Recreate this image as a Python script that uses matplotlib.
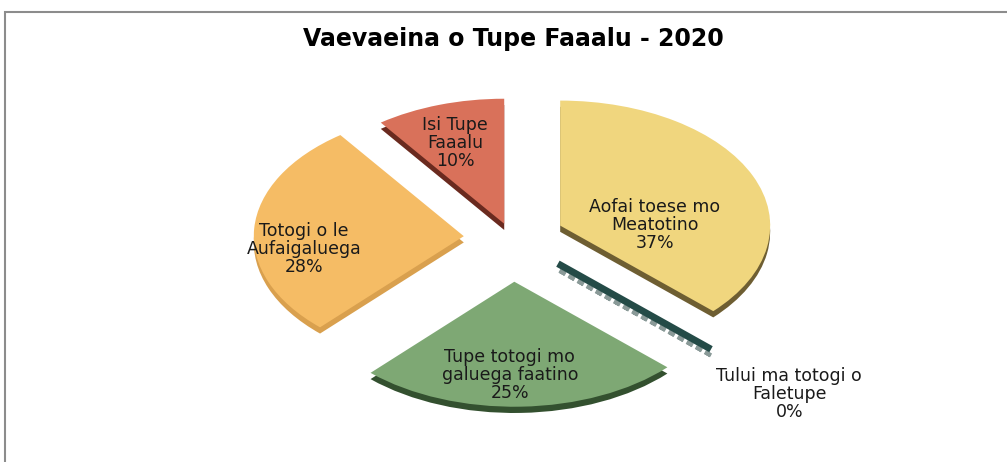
import numpy as np
import matplotlib
matplotlib.use("Agg")
import matplotlib.pyplot as plt
from matplotlib.patches import Rectangle

plt.rcParams['font.family'] = ['DejaVu Sans']

# data
categories = ["Aofai toese mo\nMeatotino", "Tului ma totogi o\nFaletupe",
              "Tupe totogi mo\ngaluega faatino", "Totogi o le\nAufaigaluega",
              "Isi Tupe\nFaaalu"]
shares = [37, 0, 25, 28, 10]

# styling
face_colors = ["#F0D67E", "#244B47", "#7EA874", "#F5BC65", "#D9715A"]
side_colors = ["#6E5E32", "#1A3532", "#33502F", "#D9A04E", "#6A2A1F"]
explode = [0.25, 0.30, 0.35, 0.23, 0.12]
label_xy = [(0.68, 0.10), (1.32, -1.25), (-0.01, -1.10), (-0.99, -0.09), (-0.27, 0.76)]

fig = plt.figure(figsize=(10.07, 4.62), dpi=100)
fig.patch.set_facecolor("white")

# chart frame (cut at right/bottom like the reference)
fig.patches.append(Rectangle((5 / 1007, -0.05), 1.2, (462 - 12) / 462 + 0.05,
                             transform=fig.transFigure, fill=False,
                             edgecolor="#8C8C8C", linewidth=1.5))

ax = fig.add_axes([92 / 1007, -1 / 462, 840 / 1007, 450 / 462])

# side / thickness layer
side, _ = ax.pie(shares, explode=explode, startangle=90, counterclock=False,
                 colors=side_colors, center=(0, -0.05),
                 wedgeprops=dict(linewidth=0))
# top face
top, _ = ax.pie(shares, explode=explode, startangle=90, counterclock=False,
                colors=face_colors, wedgeprops=dict(linewidth=0))

for w_side, w_top, v, c in zip(side, top, shares, face_colors):
    if v == 0:
        w_top.set_edgecolor(c)
        w_top.set_linewidth(5)
        w_side.set_edgecolor("#8a9a98")
        w_side.set_linewidth(3)
        w_side.set_linestyle((0, (1.5, 1)))

ax.set_aspect('auto')
ax.set_xlim(-2, 2)
ax.set_ylim(-1.8, 1.8)
ax.axis('off')

for name, v, (x, y) in zip(categories, shares, label_xy):
    ax.text(x, y, f"{name}\n{v}%", ha='center', va='center',
            fontsize=12.5, color="#1a1a1a", linespacing=1.0)

fig.text(513 / 1007, 1 - 39 / 462, "Vaevaeina o Tupe Faaalu - 2020",
         ha='center', va='center', fontsize=17, fontweight='bold')

fig.savefig("out.png", dpi=100)
